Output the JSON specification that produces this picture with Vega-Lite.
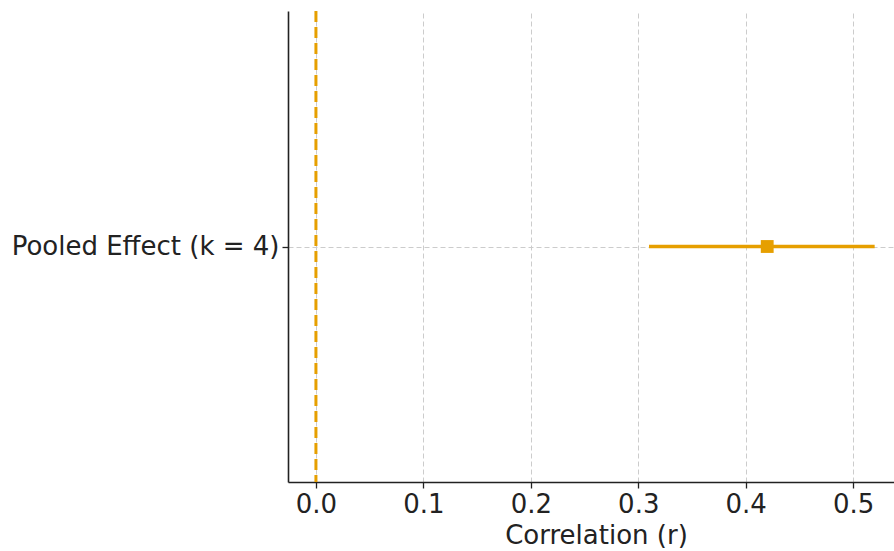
{
  "$schema": "https://vega.github.io/schema/vega-lite/v6.json",
  "width": 606,
  "height": 471,
  "autosize": {"type": "none"},
  "padding": {"left": 288, "top": 11, "right": 0, "bottom": 69},
  "background": "white",
  "config": {
    "view": {"stroke": null},
    "font": "DejaVu Sans",
    "axis": {
      "labelFont": "DejaVu Sans",
      "titleFont": "DejaVu Sans",
      "labelFontSize": 26,
      "titleFontSize": 26,
      "titleFontWeight": "normal",
      "labelColor": "#222222",
      "titleColor": "#222222",
      "domainColor": "#222222",
      "domainWidth": 1.6,
      "tickColor": "#222222",
      "tickWidth": 1.3,
      "tickSize": 6,
      "labelLimit": 400,
      "gridColor": "#cccccc",
      "gridDash": [5, 3],
      "gridWidth": 1
    }
  },
  "datasets": {
    "effects": [
      {"label": "Pooled Effect (k = 4)", "r": 0.42, "lo": 0.31, "hi": 0.52}
    ],
    "reference": [
      {"ref": 0}
    ]
  },
  "layer": [
    {
      "data": {"name": "effects"},
      "mark": {"type": "rule", "color": "#E69F00", "strokeWidth": 3.5},
      "encoding": {
        "y": {
          "field": "label",
          "type": "nominal",
          "scale": {"type": "point", "padding": 0.5},
          "axis": {"title": null, "grid": true, "labelPadding": 3, "domain": true, "labelFontSize": 26, "labelLimit": 400}
        },
        "x": {
          "field": "lo",
          "type": "quantitative",
          "scale": {"domain": [-0.026, 0.538], "nice": false, "zero": false},
          "axis": {
            "title": "Correlation (r)",
            "values": [0, 0.1, 0.2, 0.3, 0.4, 0.5],
            "format": ".1f",
            "grid": true,
            "labelFontSize": 26,
            "titleFontSize": 26,
            "labelPadding": 3,
            "titlePadding": 5,
            "titleX": 308
          }
        },
        "x2": {"field": "hi"}
      }
    },
    {
      "data": {"name": "effects"},
      "mark": {"type": "point", "shape": "square", "filled": true, "size": 165, "color": "#E69F00", "opacity": 1},
      "encoding": {
        "y": {"field": "label", "type": "nominal"},
        "x": {"field": "r", "type": "quantitative"}
      }
    },
    {
      "data": {"name": "reference"},
      "mark": {"type": "rule", "color": "#E69F00", "strokeWidth": 3, "strokeDash": [11, 5]},
      "encoding": {
        "x": {"field": "ref", "type": "quantitative"}
      }
    }
  ]
}
